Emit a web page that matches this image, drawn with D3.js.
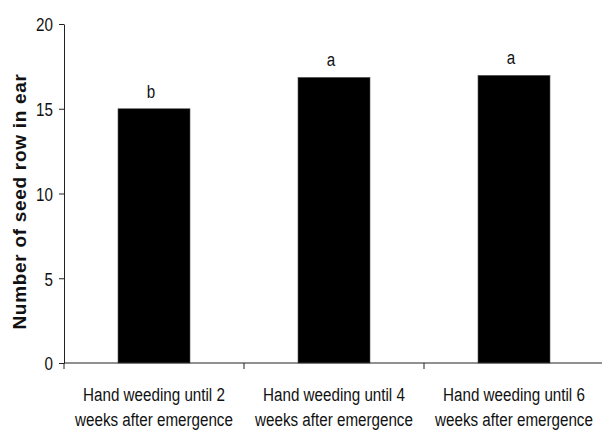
<!DOCTYPE html>
<html>
<head>
<meta charset="utf-8">
<script src="https://cdn.jsdelivr.net/npm/d3@7"></script>
<style>
  html, body { margin: 0; padding: 0; background: #fff; }
  svg { display: block; }
  text { font-family: "Liberation Sans", Arial, sans-serif; }
</style>
</head>
<body>
<svg id="chart" width="602" height="430"></svg>
<script>
const categories = [
  ["Hand weeding until 2", "weeks after emergence"],
  ["Hand weeding until 4", "weeks after emergence"],
  ["Hand weeding until 6", "weeks after emergence"]
];
const categoryKeys = ["w2", "w4", "w6"];
const values = [15.0, 16.85, 16.97];
const letters = ["b", "a", "a"];
const yTicks = [0, 5, 10, 15, 20];
const yLabel = "Number of seed row in ear";

const svg = d3.select("#chart");
const axisColor = "#222";
const NARROW = 0.8; // horizontal squeeze to mimic a narrow face

const x = d3.scaleBand().domain(categoryKeys).range([64, 604]).paddingInner(0.6).paddingOuter(0.3);
const y = d3.scaleLinear().domain([0, 20]).range([363, 24]);

// Bars
svg.append("g").selectAll("rect").data(values).join("rect")
  .attr("x", (d, i) => x(categoryKeys[i]))
  .attr("y", d => y(d))
  .attr("width", x.bandwidth())
  .attr("height", d => y(0) - y(d))
  .attr("fill", "#000")
  .attr("stroke", "#555")
  .attr("stroke-width", 0.6);

// Significance letters
svg.append("g").selectAll("text").data(letters).join("text")
  .attr("transform", (d, i) => `translate(${x(categoryKeys[i]) + x.bandwidth() / 2 - 3},${y(values[i]) - 11}) scale(${NARROW},1)`)
  .attr("text-anchor", "middle")
  .attr("font-size", 19)
  .attr("fill", "#111")
  .text(d => d);

// Y axis
const yAxis = svg.append("g")
  .attr("transform", `translate(${x.range()[0]},0)`)
  .call(d3.axisLeft(y).tickValues(yTicks).tickSize(5).tickPadding(6).tickSizeOuter(0));
yAxis.select(".domain").attr("stroke", axisColor);
yAxis.selectAll(".tick line").attr("stroke", axisColor);
yAxis.selectAll(".tick text")
  .attr("font-family", null)
  .attr("x", null)
  .attr("dy", "0.36em")
  .attr("transform", `translate(-11,0) scale(${NARROW},1)`)
  .attr("font-size", 19)
  .attr("fill", "#111");

// X axis (custom: ticks at category boundaries)
const xAxis = svg.append("g").attr("transform", `translate(0,${y(0)})`);
const x0 = x.range()[0];
xAxis.append("line")
  .attr("x1", x0).attr("x2", 602)
  .attr("y1", 0).attr("y2", 0)
  .attr("stroke", axisColor);
const boundaries = categoryKeys.map((k, i) => x0 + i * x.step());
xAxis.selectAll("line.tk").data(boundaries).join("line")
  .attr("class", "tk")
  .attr("x1", d => d).attr("x2", d => d)
  .attr("y1", 0).attr("y2", 6)
  .attr("stroke", axisColor);

const lab = xAxis.selectAll("text.cat").data(categories).join("text")
  .attr("class", "cat")
  .attr("text-anchor", "middle")
  .attr("font-size", 19)
  .attr("fill", "#111")
  .attr("transform", (d, i) => `translate(${x(categoryKeys[i]) + x.bandwidth() / 2},0) scale(${NARROW},1)`);
lab.selectAll("tspan").data(d => d).join("tspan")
  .attr("x", 0)
  .attr("y", (d, j) => 38 + j * 25)
  .text(d => d);

// Y label
svg.append("text")
  .attr("transform", `translate(26,${(70 + 333) / 2}) rotate(-90)`)
  .attr("text-anchor", "middle")
  .attr("font-weight", "bold")
  .attr("font-size", 19)
  .attr("letter-spacing", 0.7)
  .attr("fill", "#111")
  .text(yLabel);
</script>
</body>
</html>
